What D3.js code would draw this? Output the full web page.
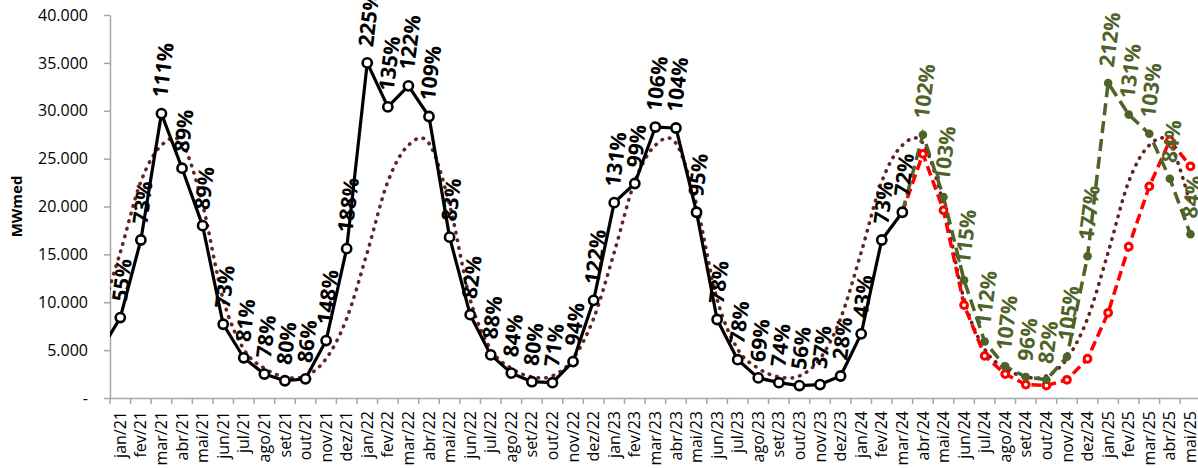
<!DOCTYPE html>
<html><head><meta charset="utf-8">
<script src="https://cdn.jsdelivr.net/npm/d3@7"></script>
<style>
body{margin:0;background:#fff;}
svg{display:block;font-family:"Open Sans",sans-serif;}
</style>
</head><body>
<svg id="chart" width="1198" height="468"></svg>
<script>
// ---------- DATA ----------
const categories = [
  "jan/21","fev/21","mar/21","abr/21","mai/21","jun/21","jul/21","ago/21","set/21","out/21","nov/21","dez/21",
  "jan/22","fev/22","mar/22","abr/22","mai/22","jun/22","jul/22","ago/22","set/22","out/22","nov/22","dez/22",
  "jan/23","fev/23","mar/23","abr/23","mai/23","jun/23","jul/23","ago/23","set/23","out/23","nov/23","dez/23",
  "jan/24","fev/24","mar/24","abr/24","mai/24","jun/24","jul/24","ago/24","set/24","out/24","nov/24","dez/24",
  "jan/25","fev/25","mar/25","abr/25","mai/25"
];
const yTicks = [0, 5000, 10000, 15000, 20000, 25000, 30000, 35000, 40000];
const yTitle = "MWmed";

// observed series (jan/21 .. mar/24); the point of dez/20 only shows as the clipped line entering the plot
const verificadoDez20 = 4800;
const verificado = [
  8400,16500,29700,24000,18000,7700,4200,2500,1800,2000,6000,15600,
  35000,30400,32600,29400,16800,8700,4500,2600,1700,1600,3800,10200,
  20400,22400,28300,28200,19400,8200,4000,2100,1600,1300,1400,2300,
  6700,16500,19400
];
const verificadoPct = [
  "55%","73%","111%","89%","89%","73%","81%","78%","80%","86%","148%","188%",
  "225%","135%","122%","109%","83%","82%","88%","84%","80%","71%","94%","122%",
  "131%","99%","106%","104%","95%","78%","78%","69%","74%","56%","37%","28%",
  "43%","73%","72%"
];

// long-term average (dez/20 .. mai/25)
const mlt = [
  8300,
  15200,22600,26400,26600,20200,10300,5100,3100,2200,2300,4100,8300,
  15200,22600,26400,26600,20200,10300,5100,3100,2200,2300,4100,8300,
  15200,22600,26400,26600,20200,10300,5100,3100,2200,2300,4100,8300,
  15200,22600,26400,26600,20200,10300,5100,3100,2200,2300,4100,8300,
  15200,22600,26400,26600,20200
];

// scenarios starting at mar/24
const cenarioInicio = "mar/24";
const cenarioVermelho = [19400,25500,19600,9700,4400,2500,1400,1300,1900,4100,8900,15800,22100,26900,24200];
const cenarioVerde    = [19400,27500,21000,12300,5900,3300,2200,1900,4300,14800,32900,29600,27600,22900,17100];
const cenarioVerdePct = [null,"102%","103%","115%","112%","107%","96%","82%","105%","177%","212%","131%","103%","84%","84%"];

// ---------- LAYOUT ----------
const svg = d3.select("#chart");
const pL = 110, bw = 20.58, pT = 15, pB = 398;
const pR = pL + bw * categories.length;

const x = d3.scaleBand().domain(categories).range([pL, pR]).padding(0);
const xi = d3.scaleLinear().domain([-0.5, categories.length - 0.5]).range([pL, pR]);
const y = d3.scaleLinear().domain([0, 40000]).range([pB, pT]);

const loc = d3.formatLocale({decimal: ",", thousands: ".", grouping: [3], currency: ["R$", ""]});
const fmt = loc.format(",.0f");

// clip
svg.append("defs").append("clipPath").attr("id", "plotclip")
  .append("rect").attr("x", pL).attr("y", -100).attr("width", pR - pL).attr("height", pB + 120);

// axes
const axisColor = "#A6A6A6";
const gy = svg.append("g").attr("transform", `translate(${pL},0)`)
  .call(d3.axisLeft(y).tickValues(yTicks).tickSize(6).tickSizeOuter(0).tickPadding(16)
    .tickFormat(d => d === 0 ? "-" : fmt(d)));
gy.select(".domain").attr("stroke", axisColor).attr("stroke-width", 1.5);
gy.selectAll(".tick line").attr("stroke", axisColor).attr("stroke-width", 1.5);
gy.selectAll(".tick text").attr("fill", "#000").style("font-size", "16px").style("font-family", "Open Sans");

const gx = svg.append("g").attr("transform", `translate(0,${pB})`)
  .call(d3.axisBottom(x).tickSize(0).tickSizeOuter(0));
gx.select(".domain").attr("stroke", axisColor).attr("stroke-width", 1.5);
gx.selectAll(".tick text")
  .attr("transform", "rotate(-90)")
  .attr("text-anchor", "end")
  .attr("x", -13).attr("y", 0).attr("dy", "0.35em")
  .attr("fill", "#000").style("font-size", "16px").style("font-family", "Open Sans");
// boundary tick marks between categories
const bounds = categories.map(c => x(c)).concat([pR]);
svg.append("g").selectAll("line").data(bounds).join("line")
  .attr("x1", d => d).attr("x2", d => d).attr("y1", pB).attr("y2", pB + 6)
  .attr("stroke", axisColor).attr("stroke-width", 1.5);

// y title
svg.append("text").attr("transform", `translate(17,${(pT + pB) / 2}) rotate(-90)`)
  .attr("text-anchor", "middle").attr("dy", "0.35em")
  .style("font-size", "15px").style("font-weight", "bold").text(yTitle);

// ---------- SERIES ----------
const plot = svg.append("g").attr("clip-path", "url(#plotclip)");
const straight = d3.line().x(d => xi(d.i)).y(d => y(d.v));
const smooth = d3.line().x(d => xi(d.i)).y(d => y(d.v)).curve(d3.curveCardinal.tension(0));

// MLT dotted
const mltPts = mlt.map((v, k) => ({i: k - 1, v}));
plot.append("path").attr("d", smooth(mltPts))
  .attr("fill", "none").attr("stroke", "#632523").attr("stroke-width", 3.6)
  .attr("stroke-dasharray", "0.5,7.3").attr("stroke-linecap", "round");

// scenarios
const i0 = categories.indexOf(cenarioInicio);
const redPts = cenarioVermelho.map((v, k) => ({i: i0 + k, v}));
const greenPts = cenarioVerde.map((v, k) => ({i: i0 + k, v}));

plot.append("path").attr("d", straight(redPts))
  .attr("fill", "none").attr("stroke", "#FF0000").attr("stroke-width", 3.5)
  .attr("stroke-dasharray", "10,5");
plot.append("path").attr("d", straight(greenPts))
  .attr("fill", "none").attr("stroke", "#4F6228").attr("stroke-width", 3.5)
  .attr("stroke-dasharray", "12,6");

// observed
const obsPts = [{i: -1, v: verificadoDez20}].concat(verificado.map((v, k) => ({i: k, v})));
plot.append("path").attr("d", straight(obsPts))
  .attr("fill", "none").attr("stroke", "#000").attr("stroke-width", 3.2)
  .attr("stroke-linejoin", "round");

// markers
svg.append("g").selectAll("circle").data(redPts.slice(1)).join("circle")
  .attr("cx", d => xi(d.i)).attr("cy", d => y(d.v)).attr("r", 3.4)
  .attr("fill", "#fff").attr("stroke", "#FF0000").attr("stroke-width", 3);
svg.append("g").selectAll("circle").data(greenPts.slice(1)).join("circle")
  .attr("cx", d => xi(d.i)).attr("cy", d => y(d.v)).attr("r", 4.3)
  .attr("fill", "#4F6228");
svg.append("g").selectAll("circle").data(obsPts.slice(1)).join("circle")
  .attr("cx", d => xi(d.i)).attr("cy", d => y(d.v)).attr("r", 4.6)
  .attr("fill", "#fff").attr("stroke", "#000").attr("stroke-width", 2.6);

// labels
function addLabels(pts, labels, color) {
  const g = svg.append("g");
  pts.forEach((p, k) => {
    const lab = labels[k];
    if (!lab) return;
    const t = g.append("text").text(lab)
      .attr("text-anchor", "middle").attr("dy", "0.36em")
      .attr("fill", color)
      .style("font-size", "21px").style("font-weight", "bold").style("font-family", "Open Sans");
    const L = t.node().getComputedTextLength();
    const cx = xi(p.i) + 1.5;
    const cy = y(p.v) - 16 - L / 2;
    t.attr("transform", `translate(${cx},${cy}) rotate(-83)`);
  });
}
addLabels(verificado.map((v, k) => ({i: k, v})), verificadoPct, "#000");
addLabels(greenPts, cenarioVerdePct, "#4F6228");
</script>
</body></html>
